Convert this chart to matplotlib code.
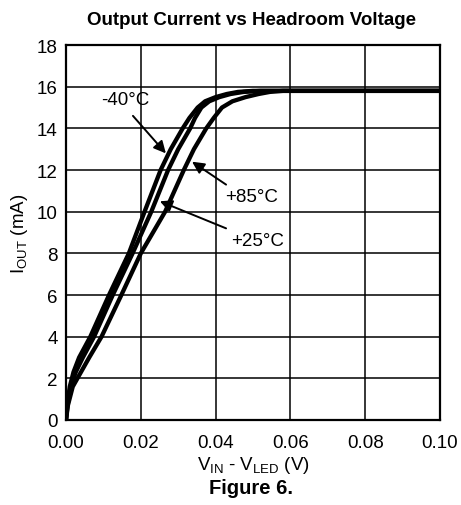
import matplotlib
matplotlib.use("Agg")
import matplotlib.pyplot as plt

plt.rcParams['font.family'] = ['Liberation Sans', 'DejaVu Sans']
plt.rcParams['mathtext.fontset'] = 'custom'
plt.rcParams['mathtext.rm'] = 'Liberation Sans'

# headroom voltage (V) and output current (mA)
x_m40 = [0, 0.0003, 0.0010, 0.0020, 0.0035, 0.0065, 0.0115, 0.0168, 0.0210, 0.0253, 0.0280,
         0.0312, 0.0330, 0.0352, 0.0372, 0.0400, 0.0430, 0.0460, 0.0500, 0.1000]
y_m40 = [0, 0.7, 1.6, 2.3, 3.0, 4.0, 6.0, 8.0, 10.0, 12.0, 13.0,
         14.0, 14.5, 15.0, 15.3, 15.5, 15.65, 15.75, 15.8, 15.8]

x_p25 = [0, 0.0004, 0.0013, 0.0026, 0.0045, 0.0075, 0.0125, 0.0178, 0.0228, 0.0273, 0.0300,
         0.0332, 0.0345, 0.0362, 0.0383, 0.0410, 0.0440, 0.0475, 0.0520, 0.1000]
y_p25 = [0, 0.7, 1.6, 2.3, 3.0, 4.0, 6.0, 8.0, 10.0, 12.0, 13.0,
         14.0, 14.5, 15.0, 15.3, 15.5, 15.65, 15.75, 15.8, 15.8]

x_p85 = [0, 0.0005, 0.0018, 0.0040, 0.0062, 0.0095, 0.0148, 0.0200, 0.0265, 0.0315, 0.0342,
         0.0375, 0.0395, 0.0417, 0.0445, 0.0480, 0.0515, 0.0545, 0.0580, 0.1000]
y_p85 = [0, 0.7, 1.6, 2.3, 3.0, 4.0, 6.0, 8.0, 10.0, 12.0, 13.0,
         14.0, 14.5, 15.0, 15.3, 15.5, 15.65, 15.75, 15.8, 15.8]

xticks = [0.00, 0.02, 0.04, 0.06, 0.08, 0.10]
yticks = [0, 2, 4, 6, 8, 10, 12, 14, 16, 18]

fig = plt.figure(figsize=(4.61, 5.06), dpi=100)
ax = fig.add_axes([0.1432, 0.168, 0.8112, 0.741])

for xs, ys in [(x_m40, y_m40), (x_p25, y_p25), (x_p85, y_p85)]:
    ax.plot(xs, ys, color='black', lw=3.1, solid_joinstyle='round', solid_capstyle='round', zorder=3)

ax.set_xlim(0, 0.1)
ax.set_ylim(0, 18)
ax.set_xticks(xticks)
ax.set_xticklabels(['%.2f' % v for v in xticks])
ax.set_yticks(yticks)
ax.grid(True, color='black', lw=1.1)
ax.tick_params(length=0, labelsize=13.5)
ax.tick_params(axis='x', pad=10)
ax.tick_params(axis='y', pad=6)
for s in ax.spines.values():
    s.set_linewidth(1.6)

arrow = dict(arrowstyle='-|>', color='black', lw=1.4, mutation_scale=18, shrinkA=0, shrinkB=0)
ax.text(0.0158, 15.4, '-40°C', fontsize=13.5, ha='center', va='center')
ax.annotate('', xy=(0.0267, 12.8), xytext=(0.0179, 14.6), arrowprops=arrow)
ax.text(0.0497, 10.75, '+85°C', fontsize=13.5, ha='center', va='center')
ax.annotate('', xy=(0.0337, 12.4), xytext=(0.0428, 11.3), arrowprops=arrow)
ax.text(0.0511, 8.64, '+25°C', fontsize=13.5, ha='center', va='center')
ax.annotate('', xy=(0.0251, 10.5), xytext=(0.0428, 9.2), arrowprops=arrow)

ax.set_xlabel(r'$\mathregular{V_{IN}}$ - $\mathregular{V_{LED}}$ (V)', fontsize=13.5, labelpad=2)
ax.set_ylabel(r'$\mathregular{I_{OUT}}$ (mA)', fontsize=13.5, labelpad=5)
fig.text(0.545, 0.96, 'Output Current vs Headroom Voltage', ha='center', va='center',
         fontsize=13.5, fontweight='bold')
fig.text(0.545, 0.035, 'Figure 6.', ha='center', va='center', fontsize=14.5, fontweight='bold')

fig.savefig('out.png', dpi=100)
